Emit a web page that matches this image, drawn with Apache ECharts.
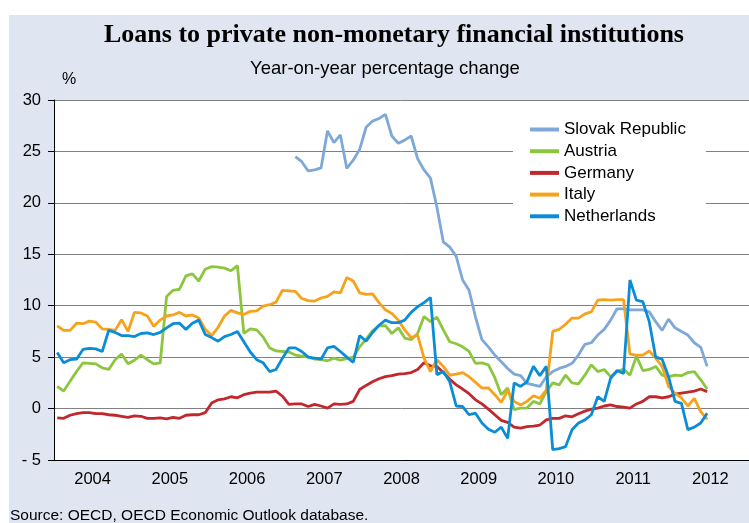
<!DOCTYPE html>
<html>
<head>
<meta charset="utf-8">
<script src="https://cdn.jsdelivr.net/npm/echarts@6/dist/echarts.min.js"></script>
<style>
  html, body { margin: 0; padding: 0; background: #fff; }
  #chart { width: 749px; height: 523px; }
</style>
</head>
<body>
<div id="chart"></div>
<script>
// years shown on the x axis, monthly data from Jan 2004
var years = ["2004", "2005", "2006", "2007", "2008", "2009", "2010", "2011", "2012"];
var seriesNames = ["Slovak Republic", "Austria", "Germany", "Italy", "Netherlands"];

// Slovak Republic starts in 2007 (month index 37)
var slovakStart = 37;
var slovak = [24.5, 24.0, 23.1, 23.2, 23.4, 27.0, 25.85, 26.6, 23.35, 24.15, 25.2, 27.35, 27.95,
  28.2, 28.6, 26.5, 25.8, 26.1, 26.5, 24.3, 23.2, 22.4, 19.6, 16.2, 15.7, 14.8, 12.5, 11.5, 8.9,
  6.7, 6.0, 5.2, 4.55, 3.9, 3.35, 3.2, 2.45, 2.3, 2.15, 3.1, 3.6, 3.9, 4.1, 4.4, 5.2, 6.25, 6.4,
  7.15, 7.7, 8.6, 9.7, 9.7, 9.6, 9.6, 9.6, 9.4, 8.45, 7.6, 8.7, 7.85, 7.5, 7.15, 6.4, 5.95, 4.1];

var austria = [2.15, 1.7, 2.65, 3.6, 4.45, 4.4, 4.35, 3.95, 3.8, 4.75,
  5.3, 4.35, 4.7, 5.2, 4.75, 4.35, 4.45, 10.9, 11.5, 11.6,
  12.9, 13.1, 12.4, 13.55, 13.8, 13.75, 13.65, 13.4, 13.9, 7.3,
  7.75, 7.65, 6.95, 5.9, 5.6, 5.55, 5.5, 5.2, 5.1, 5.0,
  4.8, 4.75, 4.65, 4.9, 4.7, 4.85, 5.0, 6.0, 6.75, 7.55,
  8.05, 8.05, 7.3, 7.85, 6.85, 6.7, 7.3, 8.95, 8.45, 8.9,
  7.65, 6.5, 6.3, 6.0, 5.55, 4.4, 4.45, 4.25, 3.0, 1.35,
  2.0, -0.1, 0.05, 0.05, 0.7, 0.45, 1.65, 2.5, 2.3, 3.25,
  2.5, 2.4, 3.25, 4.25, 3.6, 3.8, 3.1, 3.6, 3.85, 3.25,
  5.1, 3.7, 3.8, 4.1, 3.25, 3.1, 3.25, 3.2, 3.5, 3.6,
  2.8, 1.9];

var germany = [-0.9, -0.95, -0.65, -0.5, -0.4, -0.4, -0.5, -0.5, -0.6, -0.65,
  -0.75, -0.85, -0.7, -0.75, -0.95, -0.95, -0.9, -1.0, -0.85, -0.95,
  -0.65, -0.6, -0.6, -0.4, 0.55, 0.85, 0.95, 1.15, 1.05, 1.35,
  1.5, 1.6, 1.6, 1.6, 1.7, 1.2, 0.4, 0.45, 0.45, 0.2,
  0.4, 0.25, 0.05, 0.45, 0.4, 0.45, 0.7, 1.85, 2.25, 2.6,
  2.9, 3.1, 3.2, 3.35, 3.4, 3.5, 3.8, 4.45, 4.15, 4.1,
  3.5, 2.85, 2.3, 1.9, 1.45, 0.85, 0.45, -0.05, -0.6, -1.15,
  -1.35, -1.8, -1.9, -1.75, -1.7, -1.6, -1.1, -0.95, -0.95, -0.7,
  -0.8, -0.5, -0.25, -0.05, 0.05, 0.25, 0.35, 0.2, 0.15, 0.05,
  0.45, 0.7, 1.15, 1.15, 1.05, 1.15, 1.4, 1.5, 1.6, 1.7,
  1.9, 1.65];

var italy = [8.05, 7.6, 7.6, 8.3, 8.25, 8.5, 8.4, 7.75, 7.7, 7.6,
  8.65, 7.5, 9.35, 9.3, 9.0, 8.0, 8.6, 9.0, 9.1, 9.35,
  9.0, 9.1, 8.8, 7.7, 7.1, 7.9, 9.0, 9.55, 9.3, 9.15,
  9.45, 9.5, 9.95, 10.1, 10.35, 11.5, 11.45, 11.4, 10.7, 10.5,
  10.45, 10.75, 10.9, 11.35, 11.25, 12.75, 12.4, 11.25, 11.1, 11.15,
  10.3, 9.6, 9.25, 8.6, 7.65, 6.9, 7.15, 4.9, 3.6, 4.75,
  4.1, 3.25, 3.35, 3.5, 3.1, 2.55, 2.0, 2.0, 1.35, 0.6,
  1.75, 0.7, 0.35, 0.7, 1.25, 1.0, 1.8, 7.5, 7.7, 8.2,
  8.8, 8.8, 9.2, 9.4, 10.55, 10.6, 10.55, 10.6, 10.6, 5.3,
  5.2, 5.2, 5.6, 4.9, 4.1, 2.15, 1.5, 1.05, 0.25, 1.0,
  -0.3, -1.05];

var netherlands = [5.45, 4.45, 4.75, 4.8, 5.75, 5.85, 5.8, 5.55, 7.6, 7.4,
  7.1, 7.1, 7.0, 7.3, 7.35, 7.2, 7.4, 7.85, 8.25, 8.3,
  7.7, 8.3, 8.6, 7.2, 6.9, 6.55, 7.0, 7.2, 7.5, 6.5,
  5.5, 4.75, 4.45, 3.6, 3.8, 4.9, 5.9, 5.9, 5.55, 5.0,
  4.9, 4.8, 5.9, 6.05, 5.55, 5.0, 4.5, 7.1, 6.55, 7.4,
  8.1, 8.6, 8.35, 8.35, 8.6, 9.35, 9.9, 10.3, 10.8, 3.3,
  3.6, 2.6, 0.25, 0.2, -0.6, -0.45, -1.4, -2.0, -2.3, -1.8,
  -2.9, 2.5, 2.15, 2.6, 4.1, 3.2, 4.1, -4.0, -3.9, -3.7,
  -2.05, -1.4, -1.1, -0.6, 1.15, 0.7, 2.95, 3.7, 3.4, 12.5,
  10.55, 10.4, 8.45, 5.0, 4.8, 3.1, 0.7, 0.5, -2.05, -1.8,
  -1.4, -0.45];

var colors = ["#7ea8d8", "#8cc63f", "#c1272d", "#f7a21b", "#0a8dd6"];

// monthly points sit in the middle of each month
function toPoints(values, start) {
  return values.map(function (v, i) { return [start + i + 0.5, v]; });
}

var chart = echarts.init(document.getElementById("chart"));
var allData = [
  toPoints(slovak, slovakStart),
  toPoints(austria, 0),
  toPoints(germany, 0),
  toPoints(italy, 0),
  toPoints(netherlands, 0)
];

var option = {
  animation: false,
  backgroundColor: "#ffffff",
  textStyle: { fontFamily: "Liberation Sans" },
  graphic: [
    { type: "rect", left: 9, top: 15, shape: { width: 740, height: 508 }, style: { fill: "#dfe6f2" }, z: -10 },
    { type: "text", left: 104, top: 22, style: {
        text: "Loans to private non-monetary financial institutions",
        font: "bold 26px 'Liberation Serif'", fill: "#000" } },
    { type: "text", left: 250, top: 59, style: {
        text: "Year-on-year percentage change", font: "18.5px 'Liberation Sans'", fill: "#000" } },
    { type: "text", left: 62, top: 72, style: { text: "%", font: "16px 'Liberation Sans'", fill: "#000" } },
    { type: "text", left: 10, top: 508, style: {
        text: "Source: OECD, OECD Economic Outlook database.", font: "15.5px 'Liberation Sans'", fill: "#000" } }
  ],
  grid: { left: 54, top: 100, right: -3, height: 360, show: true, backgroundColor: "#ffffff", borderWidth: 0 },
  legend: {
    orient: "vertical",
    left: 513,
    top: 111,
    padding: [10, 20, 14, 17],
    backgroundColor: "#ffffff",
    icon: "rect",
    itemWidth: 29,
    itemHeight: 4,
    itemGap: 4.7,
    textStyle: { fontSize: 17, lineHeight: 17, color: "#000", fontFamily: "Liberation Sans" },
    data: seriesNames
  },
  xAxis: [
    { type: "value", min: 0, max: 108, show: false },
    {
      type: "category",
      data: years,
      position: "bottom",
      boundaryGap: true,
      axisLine: { lineStyle: { color: "#000", width: 1 } },
      axisTick: { length: 5, lineStyle: { color: "#000" } },
      axisLabel: { fontSize: 16.5, color: "#000", margin: 11 },
      splitLine: { show: false }
    }
  ],
  yAxis: {
    type: "value",
    min: -5,
    max: 30,
    interval: 5,
    axisLine: { show: true, lineStyle: { color: "#000", width: 1 } },
    axisTick: { show: true, length: 6, lineStyle: { color: "#000" } },
    axisLabel: {
      fontSize: 16.5, color: "#000", margin: 13,
      formatter: function (v) { return v < 0 ? "- " + Math.abs(v) : String(v); }
    },
    splitLine: { show: true, lineStyle: { color: "#808080", width: 1 } }
  },
  series: seriesNames.map(function (name, k) {
    return {
      name: name,
      type: "line",
      xAxisIndex: 0,
      data: allData[k],
      symbol: "none",
      color: colors[k],
      lineStyle: { width: 2.8, color: colors[k] },
      z: 3 + k
    };
  })
};

chart.setOption(option);
</script>
</body>
</html>
